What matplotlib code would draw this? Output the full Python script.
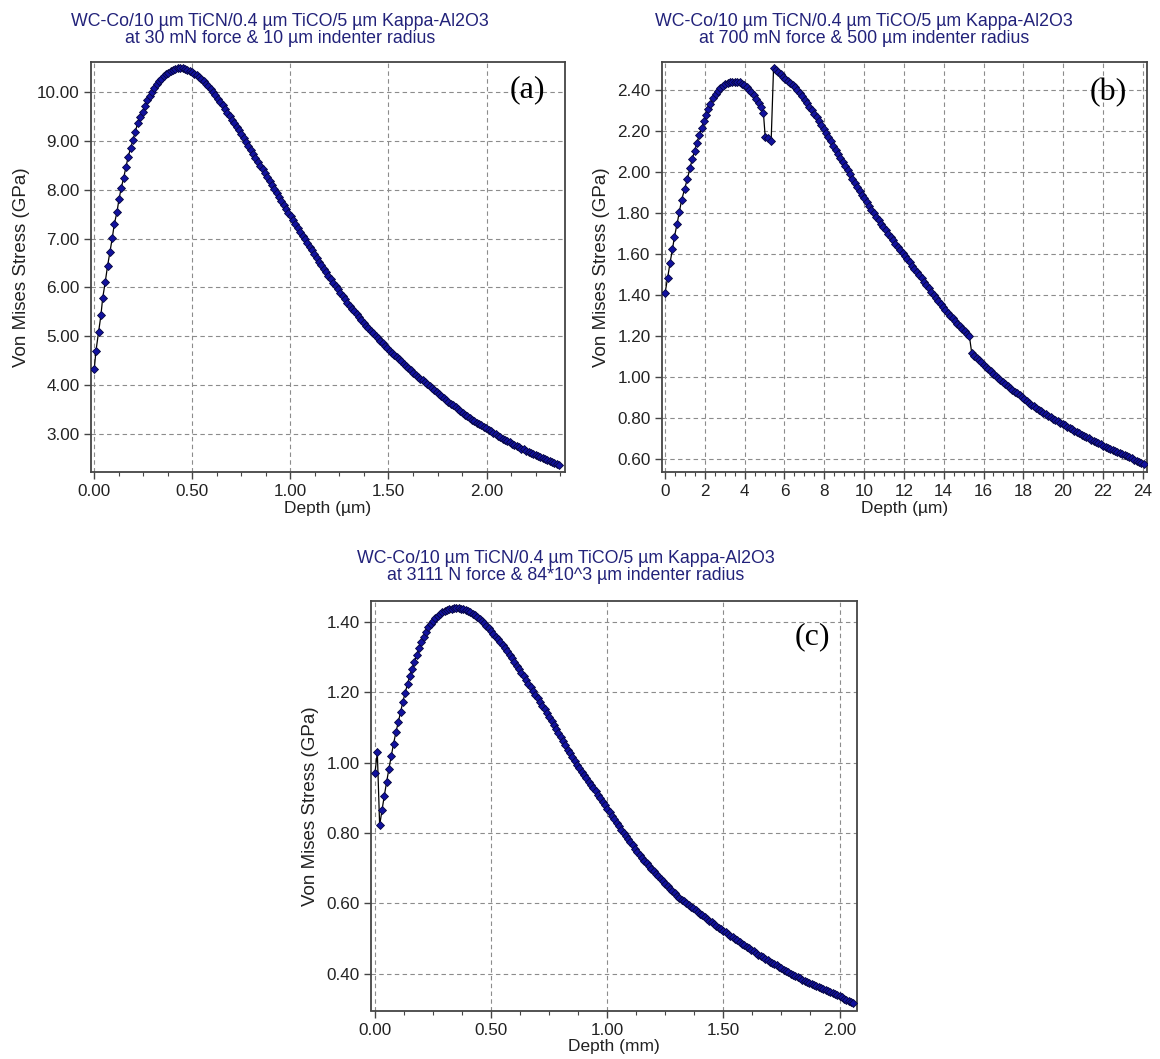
import matplotlib
matplotlib.use("Agg")
import matplotlib.pyplot as plt
from matplotlib.ticker import MultipleLocator, FormatStrFormatter

plt.rcParams['font.family'] = ['Liberation Sans', 'DejaVu Sans']

# ---------------- data (a) ----------------
depth_a = [0.000, 0.009, 0.022, 0.034, 0.043, 0.056, 0.068, 0.080, 0.092, 0.102,
           0.116, 0.126, 0.138, 0.150, 0.162, 0.173, 0.186, 0.197, 0.209, 0.221,
           0.233, 0.247, 0.259, 0.270,
           0.282, 0.294, 0.306, 0.318, 0.330, 0.342, 0.354, 0.366, 0.378, 0.390,
           0.402, 0.414, 0.426, 0.438, 0.450, 0.462, 0.474, 0.486, 0.498, 0.510,
           0.522, 0.534, 0.546, 0.558, 0.570, 0.582, 0.594, 0.606, 0.618, 0.630,
           0.642, 0.654, 0.666, 0.678, 0.690, 0.702, 0.714, 0.726, 0.738, 0.750,
           0.762, 0.774, 0.786, 0.798, 0.810, 0.822, 0.834, 0.846, 0.858, 0.870,
           0.882, 0.894, 0.906, 0.918, 0.930, 0.942, 0.954, 0.966, 0.978, 0.990,
           1.002, 1.014, 1.026, 1.038, 1.050, 1.062, 1.074, 1.086, 1.098, 1.110,
           1.122, 1.134, 1.146, 1.158, 1.170, 1.182, 1.194, 1.206, 1.218, 1.230,
           1.242, 1.254, 1.266, 1.278, 1.290, 1.302, 1.314, 1.326, 1.338, 1.350,
           1.362, 1.374, 1.386, 1.398, 1.410, 1.422, 1.434, 1.446, 1.458, 1.470,
           1.482, 1.494, 1.506, 1.518, 1.530, 1.542, 1.554, 1.566, 1.578, 1.590,
           1.602, 1.614, 1.626, 1.638, 1.650, 1.662, 1.674, 1.686, 1.698, 1.710,
           1.722, 1.734, 1.746, 1.758, 1.770, 1.782, 1.794, 1.806, 1.818, 1.830,
           1.842, 1.854, 1.866, 1.878, 1.890, 1.902, 1.914, 1.926, 1.938, 1.950,
           1.962, 1.974, 1.986, 1.998, 2.010, 2.022, 2.034, 2.046, 2.058, 2.070,
           2.082, 2.094, 2.106, 2.118, 2.130, 2.142, 2.154, 2.166, 2.178, 2.190,
           2.202, 2.214, 2.226, 2.238, 2.250, 2.262, 2.274, 2.286, 2.298, 2.310,
           2.322, 2.334, 2.346, 2.358, 2.370]
stress_a = [4.33, 4.71, 5.08, 5.43, 5.78, 6.11, 6.44, 6.73, 7.01, 7.29,
            7.54, 7.80, 8.04, 8.24, 8.46, 8.67, 8.85, 9.01, 9.18, 9.35,
            9.49, 9.59, 9.71, 9.83,
            9.92, 10.00, 10.08, 10.15, 10.21, 10.26, 10.31, 10.36, 10.39, 10.42,
            10.45, 10.47, 10.48, 10.48, 10.48, 10.47, 10.45, 10.43, 10.40, 10.37,
            10.34, 10.30, 10.26, 10.21, 10.16, 10.11, 10.06, 10.00, 9.93, 9.86,
            9.79, 9.72, 9.65, 9.57, 9.50, 9.42, 9.35, 9.28, 9.21, 9.13,
            9.05, 8.97, 8.89, 8.81, 8.73, 8.65, 8.57, 8.49, 8.41, 8.33,
            8.25, 8.17, 8.09, 8.01, 7.93, 7.85, 7.77, 7.69, 7.61, 7.53,
            7.45, 7.37, 7.29, 7.21, 7.13, 7.06, 6.98, 6.91, 6.83, 6.76,
            6.68, 6.61, 6.53, 6.46, 6.38, 6.31, 6.24, 6.17, 6.10, 6.03,
            5.96, 5.89, 5.82, 5.76, 5.69, 5.63, 5.57, 5.51, 5.45, 5.39,
            5.33, 5.28, 5.22, 5.17, 5.11, 5.06, 5.01, 4.96, 4.91, 4.86,
            4.81, 4.76, 4.71, 4.67, 4.62, 4.58, 4.53, 4.49, 4.44, 4.40,
            4.35, 4.31, 4.26, 4.22, 4.18, 4.14, 4.10, 4.06, 4.02, 3.98,
            3.94, 3.90, 3.86, 3.82, 3.78, 3.74, 3.70, 3.66, 3.62, 3.59,
            3.55, 3.51, 3.47, 3.44, 3.40, 3.37, 3.33, 3.30, 3.27, 3.24,
            3.21, 3.18, 3.15, 3.12, 3.09, 3.06, 3.03, 3.00, 2.97, 2.94,
            2.91, 2.89, 2.86, 2.84, 2.81, 2.79, 2.76, 2.74, 2.71, 2.69,
            2.66, 2.64, 2.62, 2.60, 2.58, 2.56, 2.54, 2.52, 2.50, 2.48,
            2.46, 2.44, 2.42, 2.40, 2.38]

# ---------------- data (b) ----------------
depth_b = [0.00, 0.13, 0.25, 0.37, 0.47, 0.60, 0.72, 0.83, 0.98, 1.12,
           1.25, 1.37, 1.48, 1.60, 1.72, 1.83, 1.95, 2.05, 2.17, 2.28, 2.42,
           2.54, 2.66, 2.78, 2.90, 3.02, 3.14, 3.26, 3.38, 3.50, 3.62,
           3.74, 3.86, 3.98, 4.10, 4.22, 4.34, 4.46, 4.58, 4.70, 4.82, 4.94,
           5.03, 5.18, 5.33,
           5.45, 5.57, 5.69, 5.81, 5.93, 6.05, 6.17, 6.29, 6.41, 6.53,
           6.65, 6.77, 6.89, 7.01, 7.13, 7.25, 7.37, 7.49, 7.61, 7.73,
           7.85, 7.97, 8.09, 8.21, 8.33, 8.45, 8.57, 8.69, 8.81, 8.93,
           9.05, 9.17, 9.29, 9.41, 9.53, 9.65, 9.77, 9.89, 10.01, 10.13,
           10.25, 10.37, 10.49, 10.61, 10.73, 10.85, 10.97, 11.09, 11.21, 11.33,
           11.45, 11.57, 11.69, 11.81, 11.93, 12.05, 12.17, 12.29, 12.41, 12.53,
           12.65, 12.77, 12.89, 13.01, 13.13, 13.25, 13.37, 13.49, 13.61, 13.73,
           13.85, 13.97, 14.09, 14.21, 14.33, 14.45, 14.57, 14.69, 14.81, 14.93,
           15.05, 15.17, 15.29,
           15.41, 15.53, 15.65, 15.77, 15.89, 16.01, 16.13, 16.25, 16.37, 16.49,
           16.61, 16.73, 16.85, 16.97, 17.09, 17.21, 17.33, 17.45, 17.57, 17.69,
           17.81, 17.93, 18.05, 18.17, 18.29, 18.41, 18.53, 18.65, 18.77, 18.89,
           19.01, 19.13, 19.25, 19.37, 19.49, 19.61, 19.73, 19.85, 19.97, 20.09,
           20.21, 20.33, 20.45, 20.57, 20.69, 20.81, 20.93, 21.05, 21.17, 21.29,
           21.41, 21.53, 21.65, 21.77, 21.89, 22.01, 22.13, 22.25, 22.37, 22.49,
           22.61, 22.73, 22.85, 22.97, 23.09, 23.21, 23.33, 23.45, 23.57, 23.69,
           23.81, 23.93, 24.05]
stress_b = [1.411, 1.485, 1.558, 1.623, 1.684, 1.746, 1.806, 1.863, 1.917, 1.967,
            2.018, 2.065, 2.102, 2.143, 2.180, 2.213, 2.249, 2.278, 2.307, 2.332, 2.360,
            2.380, 2.396, 2.409, 2.419, 2.427, 2.433, 2.437, 2.440, 2.441, 2.440,
            2.437, 2.431, 2.423, 2.413, 2.402, 2.389, 2.374, 2.357, 2.338, 2.317, 2.290,
            2.172, 2.164, 2.153,
            2.506, 2.497, 2.487, 2.476, 2.465, 2.455, 2.445, 2.435, 2.424, 2.413,
            2.400, 2.385, 2.369, 2.353, 2.336, 2.319, 2.302, 2.284, 2.266, 2.247,
            2.228, 2.209, 2.189, 2.169, 2.149, 2.129, 2.109, 2.088, 2.068, 2.048,
            2.028, 2.008, 1.988, 1.968, 1.948, 1.928, 1.909, 1.890, 1.871, 1.852,
            1.834, 1.816, 1.798, 1.781, 1.764, 1.747, 1.731, 1.715, 1.699, 1.683,
            1.667, 1.651, 1.636, 1.620, 1.605, 1.590, 1.575, 1.559, 1.544, 1.528,
            1.513, 1.497, 1.481, 1.465, 1.449, 1.432, 1.416, 1.400, 1.385, 1.370,
            1.355, 1.341, 1.327, 1.313, 1.300, 1.286, 1.273, 1.260, 1.248, 1.236,
            1.224, 1.212, 1.200,
            1.116, 1.105, 1.094, 1.083, 1.072, 1.061, 1.050, 1.039, 1.028, 1.017,
            1.006, 0.996, 0.986, 0.976, 0.966, 0.956, 0.947, 0.938, 0.929, 0.920,
            0.911, 0.902, 0.893, 0.884, 0.875, 0.866, 0.858, 0.849, 0.841, 0.833,
            0.825, 0.818, 0.811, 0.804, 0.797, 0.790, 0.784, 0.777, 0.771, 0.764,
            0.758, 0.751, 0.745, 0.738, 0.732, 0.725, 0.719, 0.713, 0.707, 0.701,
            0.695, 0.689, 0.683, 0.677, 0.672, 0.666, 0.661, 0.655, 0.650, 0.644,
            0.639, 0.634, 0.629, 0.624, 0.619, 0.614, 0.609, 0.603, 0.597, 0.591,
            0.585, 0.580, 0.574]

# ---------------- data (c) ----------------
depth_c = [0.00, 0.01, 0.02, 0.03, 0.04, 0.05, 0.06, 0.07, 0.08, 0.09,
           0.10, 0.11, 0.12, 0.13, 0.14, 0.15, 0.16, 0.17, 0.18, 0.19,
           0.20, 0.21, 0.22, 0.23, 0.24, 0.25, 0.26, 0.27, 0.28, 0.29,
           0.30, 0.31, 0.32, 0.33, 0.34, 0.35, 0.36, 0.37, 0.38, 0.39,
           0.40, 0.41, 0.42, 0.43, 0.44, 0.45, 0.46, 0.47, 0.48, 0.49,
           0.50, 0.51, 0.52, 0.53, 0.54, 0.55, 0.56, 0.57, 0.58, 0.59,
           0.60, 0.61, 0.62, 0.63, 0.64, 0.65, 0.66, 0.67, 0.68, 0.69,
           0.70, 0.71, 0.72, 0.73, 0.74, 0.75, 0.76, 0.77, 0.78, 0.79,
           0.80, 0.81, 0.82, 0.83, 0.84, 0.85, 0.86, 0.87, 0.88, 0.89,
           0.90, 0.91, 0.92, 0.93, 0.94, 0.95, 0.96, 0.97, 0.98, 0.99,
           1.00, 1.01, 1.02, 1.03, 1.04, 1.05, 1.06, 1.07, 1.08, 1.09,
           1.10, 1.11, 1.12, 1.13, 1.14, 1.15, 1.16, 1.17, 1.18, 1.19,
           1.20, 1.21, 1.22, 1.23, 1.24, 1.25, 1.26, 1.27, 1.28, 1.29,
           1.30, 1.31, 1.32, 1.33, 1.34, 1.35, 1.36, 1.37, 1.38, 1.39,
           1.40, 1.41, 1.42, 1.43, 1.44, 1.45, 1.46, 1.47, 1.48, 1.49,
           1.50, 1.51, 1.52, 1.53, 1.54, 1.55, 1.56, 1.57, 1.58, 1.59,
           1.60, 1.61, 1.62, 1.63, 1.64, 1.65, 1.66, 1.67, 1.68, 1.69,
           1.70, 1.71, 1.72, 1.73, 1.74, 1.75, 1.76, 1.77, 1.78, 1.79,
           1.80, 1.81, 1.82, 1.83, 1.84, 1.85, 1.86, 1.87, 1.88, 1.89,
           1.90, 1.91, 1.92, 1.93, 1.94, 1.95, 1.96, 1.97, 1.98, 1.99,
           2.00, 2.01, 2.02, 2.03, 2.04, 2.05, 2.06]
stress_c = [0.971, 1.029, 0.822, 0.865, 0.906, 0.945, 0.983, 1.018, 1.054, 1.086,
            1.114, 1.143, 1.173, 1.199, 1.223, 1.247, 1.267, 1.287, 1.306, 1.325,
            1.343, 1.358, 1.372, 1.384, 1.394, 1.403, 1.410, 1.417, 1.422, 1.427,
            1.431, 1.434, 1.436, 1.437, 1.438, 1.438, 1.438, 1.437, 1.435, 1.433,
            1.430, 1.427, 1.423, 1.418, 1.413, 1.408, 1.402, 1.396, 1.389, 1.381,
            1.374, 1.366, 1.358, 1.350, 1.342, 1.334, 1.325, 1.316, 1.306, 1.296,
            1.286, 1.275, 1.265, 1.255, 1.245, 1.234, 1.224, 1.214, 1.204, 1.193,
            1.183, 1.172, 1.162, 1.151, 1.140, 1.129, 1.118, 1.106, 1.095, 1.083,
            1.072, 1.060, 1.049, 1.037, 1.026, 1.015, 1.005, 0.994, 0.984, 0.974,
            0.965, 0.955, 0.946, 0.937, 0.928, 0.918, 0.909, 0.899, 0.889, 0.879,
            0.869, 0.859, 0.849, 0.839, 0.829, 0.819, 0.810, 0.801, 0.792, 0.783,
            0.774, 0.765, 0.756, 0.747, 0.738, 0.730, 0.722, 0.714, 0.706, 0.699,
            0.691, 0.684, 0.677, 0.670, 0.663, 0.656, 0.649, 0.642, 0.635, 0.629,
            0.622, 0.616, 0.611, 0.606, 0.601, 0.596, 0.591, 0.586, 0.581, 0.576,
            0.571, 0.566, 0.561, 0.556, 0.551, 0.546, 0.541, 0.536, 0.531, 0.527,
            0.522, 0.518, 0.513, 0.509, 0.504, 0.500, 0.495, 0.491, 0.486, 0.482,
            0.477, 0.473, 0.468, 0.464, 0.459, 0.455, 0.451, 0.447, 0.443, 0.439,
            0.435, 0.431, 0.427, 0.424, 0.420, 0.416, 0.412, 0.409, 0.405, 0.401,
            0.397, 0.394, 0.390, 0.387, 0.384, 0.381, 0.378, 0.375, 0.372, 0.369,
            0.366, 0.363, 0.360, 0.357, 0.354, 0.351, 0.348, 0.345, 0.342, 0.339,
            0.336, 0.333, 0.330, 0.327, 0.324, 0.321, 0.318]

titles = ["WC-Co/10 \u00b5m TiCN/0.4 \u00b5m TiCO/5 \u00b5m Kappa-Al2O3\nat 30 mN force & 10 \u00b5m indenter radius",
          "WC-Co/10 \u00b5m TiCN/0.4 \u00b5m TiCO/5 \u00b5m Kappa-Al2O3\nat 700 mN force & 500 \u00b5m indenter radius",
          "WC-Co/10 \u00b5m TiCN/0.4 \u00b5m TiCO/5 \u00b5m Kappa-Al2O3\nat 3111 N force & 84*10^3 \u00b5m indenter radius"]
xlabels = ["Depth (\u00b5m)", "Depth (\u00b5m)", "Depth (mm)"]
ylabel = "Von Mises Stress (GPa)"
panel_labels = ["(a)", "(b)", "(c)"]

W, H = 1160, 1059
fig = plt.figure(figsize=(W / 100, H / 100), dpi=100)


def add_ax(l, t, r, b):
    return fig.add_axes([l / W, 1 - b / H, (r - l) / W, (b - t) / H])


ax_a = add_ax(90.7, 62.3, 565, 472)
ax_b = add_ax(661.7, 62.3, 1146.7, 472)
ax_c = add_ax(370.7, 601, 856.7, 1010.5)

TITLE_COLOR = '#22227a'
TEXT_COLOR = '#222222'

specs = [
    (ax_a, depth_a, stress_a, (-0.018, 2.40), (2.23, 10.60), 0.5, 0.125, 1.0, '%.2f', '%.2f', (280, 47), (0.921, 0.932)),
    (ax_b, depth_b, stress_b, (-0.17, 24.2), (0.537, 2.535), 2, 0.5, 0.2, '%d', '%.2f', (864, 47), (0.920, 0.927)),
    (ax_c, depth_c, stress_c, (-0.0185, 2.074), (0.296, 1.459), 0.5, 0.125, 0.2, '%.2f', '%.2f', (566, 584), (0.908, 0.912)),
]

for i, (ax, xs, ys, xl, yl, xmaj, xmin, ymaj, xfmt, yfmt, tpos, ppos) in enumerate(specs):
    ax.plot(xs, ys, color='black', linewidth=0.9, marker='D', markersize=4.3,
            markerfacecolor='#12129e', markeredgecolor='#05053f', markeredgewidth=0.6,
            zorder=3)
    ax.set_xlim(*xl)
    ax.set_ylim(*yl)
    ax.xaxis.set_major_locator(MultipleLocator(xmaj))
    ax.xaxis.set_minor_locator(MultipleLocator(xmin))
    ax.yaxis.set_major_locator(MultipleLocator(ymaj))
    ax.xaxis.set_major_formatter(FormatStrFormatter(xfmt))
    ax.yaxis.set_major_formatter(FormatStrFormatter(yfmt))
    ax.grid(True, which='major', linestyle=(0, (4, 3)), color='#8c8c8c', linewidth=0.8)
    ax.set_axisbelow(True)
    for s in ax.spines.values():
        s.set_color('#444444')
        s.set_linewidth(1.3)
    ax.tick_params(which='major', direction='out', length=5, width=1.0, color='#444444',
                   labelsize=12.3, labelcolor=TEXT_COLOR, pad=3)
    ax.tick_params(axis='x', which='major', pad=4)
    ax.tick_params(which='minor', direction='out', length=3, width=0.8, color='#444444')
    ax.set_xlabel(xlabels[i], fontsize=12.5, color=TEXT_COLOR, labelpad=1)
    ax.set_ylabel(ylabel, fontsize=13.5, color=TEXT_COLOR, labelpad=5)
    fig.text(tpos[0] / W, 1 - tpos[1] / H, titles[i], ha='center', va='bottom',
             fontsize=12.8, color=TITLE_COLOR, linespacing=1.0)
    ax.text(ppos[0], ppos[1], panel_labels[i], transform=ax.transAxes, ha='center', va='center',
            fontsize=23, family='Liberation Serif', color='black', zorder=5)

fig.savefig('out.png', dpi=100, facecolor='white')
